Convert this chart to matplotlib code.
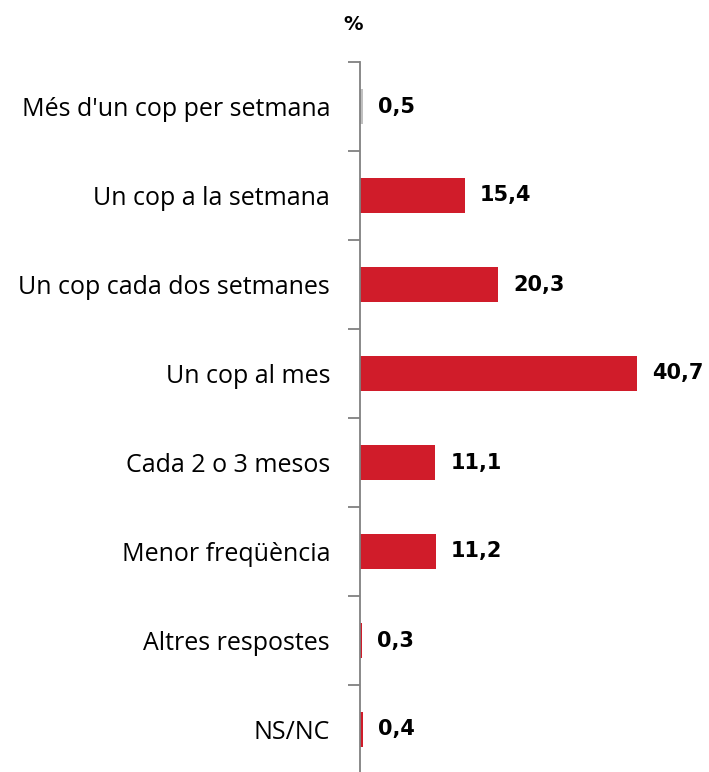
import matplotlib
matplotlib.use("Agg")
import matplotlib.pyplot as plt
import numpy as np

categories = ["Més d'un cop per setmana", "Un cop a la setmana", "Un cop cada dos setmanes",
              "Un cop al mes", "Cada 2 o 3 mesos", "Menor freqüència", "Altres respostes", "NS/NC"]
values = [0.5, 15.4, 20.3, 40.7, 11.1, 11.2, 0.3, 0.4]
value_labels = ["0,5", "15,4", "20,3", "40,7", "11,1", "11,2", "0,3", "0,4"]
colors = ["#c0c0c0"] + ["#d01c2a"] * 7

W, H = 709, 772
fig = plt.figure(figsize=(W / 100, H / 100), dpi=100)
ax_left = 360 / W
ax_top = 62
ax_bot = 774
ax = fig.add_axes([ax_left, 1 - ax_bot / H, 1 - ax_left, (ax_bot - ax_top) / H])

y = np.arange(len(categories))
ax.barh(y, values, height=0.4, color=colors, edgecolor="none")
ax.set_ylim(len(categories) - 0.5, -0.5)
ax.set_xlim(0, (W - 360) / 6.8)

for s in ["top", "right", "bottom"]:
    ax.spines[s].set_visible(False)
ax.spines["left"].set_color("#808080")
ax.spines["left"].set_linewidth(1.3)
ax.set_xticks([])
ax.set_yticks(y)
ax.set_yticklabels(categories, fontsize=18, family="Open Sans")
ax.tick_params(axis="y", which="major", length=0, pad=21.6)
ax.set_yticks(np.arange(-0.5, len(categories) + 0.5, 1), minor=True)
ax.tick_params(axis="y", which="minor", length=9, width=1.3, color="#808080", direction="out")

for yi, v, lab in zip(y, values, value_labels):
    ax.text(v + 2.2, yi, lab, va="center", ha="left", fontsize=15, fontweight="bold",
            family="DejaVu Sans")

fig.text(353 / W, 1 - 25 / H, "%", ha="center", va="center", fontsize=14, fontweight="bold",
         family="DejaVu Sans")

fig.savefig("out.png", dpi=100)
